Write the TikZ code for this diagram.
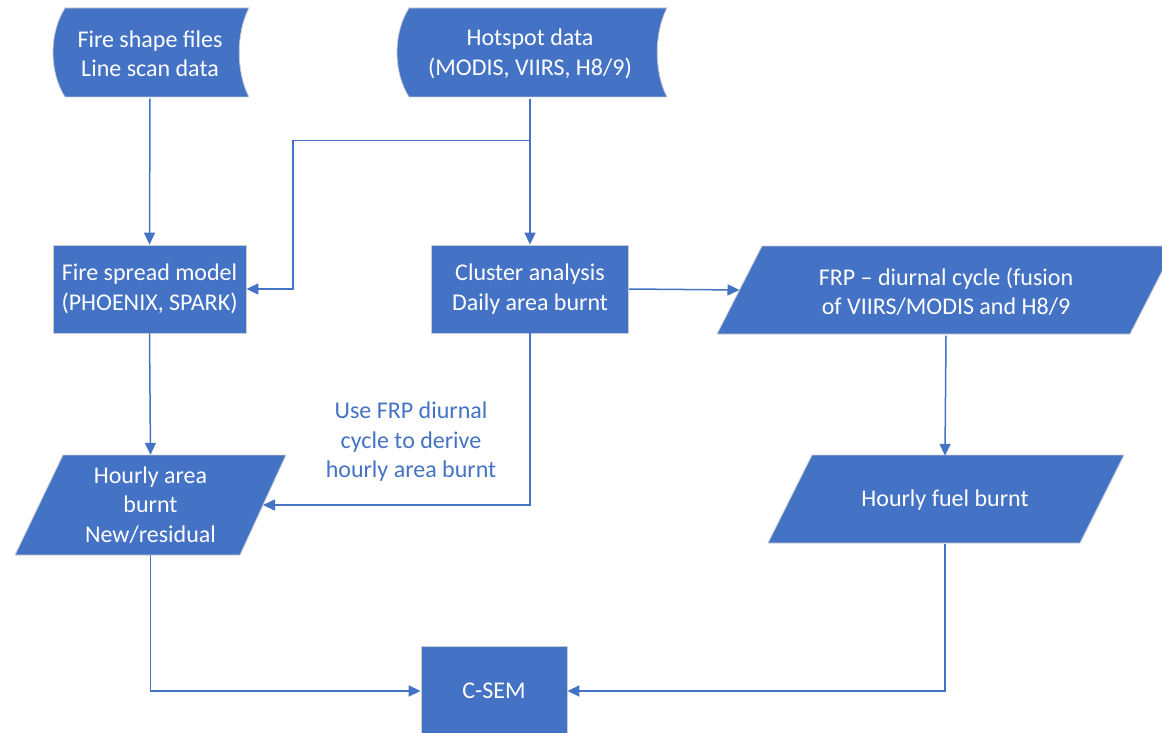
\documentclass[tikz,border=0pt]{standalone}
\usepackage{fontspec}
\setmainfont{Carlito}
\usetikzlibrary{arrows.meta}
\definecolor{oblue}{HTML}{4472C4}
\definecolor{edge}{HTML}{C8CCD4}
\begin{document}
\begin{tikzpicture}[x=1pt,y=-1pt,
  txt/.style={font=\fontsize{24}{29.5}\selectfont,align=center,inner sep=0pt},
  box/.style={txt,rectangle,fill=oblue,draw=edge,line width=0.8pt,text=white},
  intext/.style={txt,text=white},
  shapefill/.style={fill=oblue,draw=edge,line width=0.8pt},
  conn/.style={draw=oblue,line width=1.5pt,-{Triangle[length=12pt,width=11pt]}},
  note/.style={txt,text=oblue},
  ]
\path[use as bounding box] (0,0) rectangle (1162,733);
\clip (0,0) rectangle (1162,733);

% stored data shapes
\path[shapefill] (65,8) -- (249,8) .. controls (236,33) and (236,72) .. (249,97)
  -- (65,97) .. controls (49,72) and (49,33) .. (65,8) -- cycle;
\node[intext,minimum width=190pt,minimum height=89pt] (fs) at (150,54) {Fire shape files\\Line scan data};

\path[shapefill] (409,8) -- (667,8) .. controls (654,33) and (654,72) .. (667,97)
  -- (409,97) .. controls (393,72) and (393,33) .. (409,8) -- cycle;
\node[intext,minimum width=266pt,minimum height=89pt] (hs) at (530,54) {Hotspot data\\(MODIS, VIIRS, H8/9)};

% process boxes
\node[box,minimum width=193pt,minimum height=88pt] (fsm) at (149.5,289) {Fire spread model\\(PHOENIX, SPARK)};
\node[box,minimum width=197pt,minimum height=88pt] (ca) at (530,289) {Cluster analysis\\Daily area burnt};
\node[box,minimum width=146pt,minimum height=90pt] (csem) at (494,691) {C-SEM};

% data (parallelograms)
\path[shapefill] (717,334) -- (1130,334) -- (1175,246) -- (762,246) -- cycle;
\node[intext,minimum width=458pt,minimum height=88pt] (frp) at (946,291.5) {FRP -- diurnal cycle (fusion\\of VIIRS/MODIS and H8/9};
\coordinate (frpw) at (739.5,290);

\path[shapefill] (15,555) -- (240,555) -- (286,455) -- (63,455) -- cycle;
\node[intext,minimum width=271pt,minimum height=100pt] (hab) at (150.5,505) {Hourly area\\burnt\\New/residual};
\coordinate (habe) at (263,505);

\path[shapefill] (768,543) -- (1080,543) -- (1124,455) -- (812,455) -- cycle;
\node[intext,minimum width=356pt,minimum height=88pt] (hfb) at (945,500) {Hourly fuel burnt};

\node[note] (lbl) at (411,442) {Use FRP diurnal\\cycle to derive\\hourly area burnt};

% connectors
\coordinate (j1) at (530,140.5);
\coordinate (j2) at (293,140.5);
\draw[conn] (fs.south) -- (fsm.north);
\draw[conn] (hs.south) -- (ca.north);
\draw[conn] (j1) -- (j2) |- (fsm.east);
\draw[conn] (ca.east) -- (frpw);
\draw[conn] (frp.south) -- (hfb.north);
\draw[conn] (fsm.south) -- (hab.north);
\draw[conn] (ca.south) |- (habe);
\draw[conn] (hab.south) |- (csem.west);
\draw[conn] (hfb.south) |- (csem.east);
\end{tikzpicture}
\end{document}
